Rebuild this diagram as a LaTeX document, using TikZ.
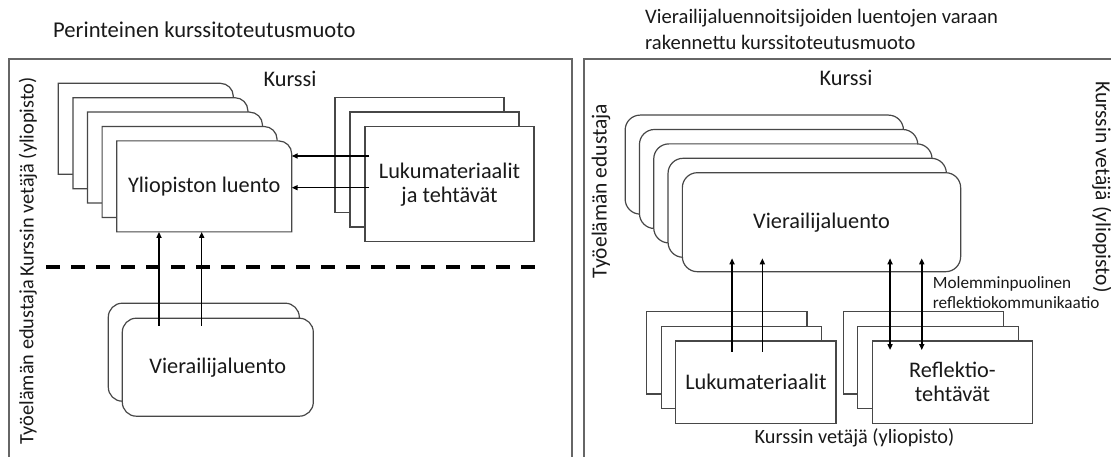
\documentclass[tikz,border=0pt]{standalone}
\usepackage{fontspec}
\setmainfont{Carlito}
\usetikzlibrary{arrows.meta}

\tikzset{
  txt/.style={font=\fontsize{22.3}{24}\selectfont, text=black!90, inner sep=0pt, align=center},
  roletxt/.style={txt, font=\fontsize{20.3}{24}\selectfont},
  smalltxt/.style={font=\fontsize{17.2}{20}\selectfont, text=black!90, inner sep=0pt, align=left},
  frameline/.style={draw=black!60, line width=1.3pt},
  cardline/.style={draw=black!72, line width=1.2pt},
  cardarea/.style={inner sep=0pt, outer sep=0pt},
  sqcard/.style={cardarea, cardline, fill=white},
  arr/.style={-{Triangle[length=6pt,width=5pt]}, line width=1.5pt, black},
  darr/.style={{Triangle[length=6pt,width=5pt]}-{Triangle[length=6pt,width=5pt]}, line width=1.5pt, black},
  divider/.style={line width=4pt, dash pattern=on 14pt off 11pt, black}
}

\begin{document}
\begin{tikzpicture}[x=1pt,y=-1pt]
\useasboundingbox (0,0) rectangle (1111,457);
\clip (0,0) rectangle (1111,457);

% ---------- headings ----------
\node[txt, anchor=base west, font=\fontsize{22.6}{24}\selectfont] (title-left) at (53,38) {Perinteinen kurssitoteutusmuoto};
\node[txt, anchor=base west, align=left, font=\fontsize{20.6}{26}\selectfont] (title-right) at (645,50)
  {Vierailijaluennoitsijoiden luentojen varaan\\rakennettu kurssitoteutusmuoto};

% ---------- course frames ----------
\draw[frameline] (9,470) -- (9,59) -- (572,59) -- (572,470);
\draw[frameline] (584,470) -- (584,59) -- (1125,59);

\node[txt, anchor=base] (course-left) at (290,87) {Kurssi};
\node[txt, anchor=base] (course-right) at (846,86) {Kurssi};

% ---------- left: lectures of the university (top-right corner rounded) ----------
\foreach \i in {0,...,4}{
  \node[cardarea, minimum width=175pt, minimum height=91pt] (yl\i)
    at ({204.2-(4-\i)*14.6},{186.4-(4-\i)*14.4}) {};
  \filldraw[cardline, fill=white] (yl\i.south west) -- (yl\i.north west)
    -- ([xshift=-13pt]yl\i.north east)
    .. controls ([xshift=-5.8pt]yl\i.north east) and ([yshift=-5.8pt]yl\i.north east)
    .. ([yshift=-13pt]yl\i.north east)
    -- (yl\i.south east) -- cycle;
}
\node[txt] (yl-label) at (yl4) {Yliopiston luento};

% ---------- left: reading material and tasks ----------
\foreach \i in {0,1}{
  \node[sqcard, minimum width=169pt, minimum height=115pt] (lm\i)
    at ({449.5-(2-\i)*15},{184.2-(2-\i)*14.7}) {};
}
\node[sqcard, txt, minimum width=169pt, minimum height=115pt] (lm2) at (449.5,184.2)
  {Lukumateriaalit\\ja tehtävät};

% ---------- left: guest lecture ----------
\node[sqcard, rounded corners=14pt, minimum width=191pt, minimum height=98pt] (vl0) at (203.8,352.2) {};
\node[sqcard, txt, rounded corners=14pt, minimum width=191pt, minimum height=98pt] (vl1) at (217.8,367.2) {Vierailijaluento};

% dividing line between university and working life
\draw[divider] (46,267) -- (545,267);

% left connectors
\coordinate (la1) at ([shift={(4,29.3)}]lm2.north west);
\coordinate (la2) at ([shift={(4,61)}]lm2.north west);
\draw[arr] (la1) -- (la1 -| yl4.east);
\draw[arr] (la2) -- (la2 -| yl4.east);

\coordinate (va1) at ([shift={(36.7,7.7)}]vl1.north west);
\coordinate (va2) at ([shift={(79.4,7.7)}]vl1.north west);
\draw[arr] (va1) -- (va1 |- yl4.south);
\draw[arr] (va2) -- (va2 |- yl4.south);

% left side roles
\node[roletxt, rotate=90] (role-uni-left) at (28,177) {Kurssin vetäjä (yliopisto)};
\node[roletxt, rotate=90] (role-work-left) at (28,362) {Työelämän edustaja};

% ---------- right: guest lectures ----------
\foreach \i in {0,...,3}{
  \node[sqcard, rounded corners=15pt, minimum width=278.3pt, minimum height=99pt] (vr\i)
    at ({821.5-(4-\i)*14.3},{222.2-(4-\i)*14.4}) {};
}
\node[sqcard, txt, rounded corners=15pt, minimum width=278.3pt, minimum height=99pt] (vr4)
  at (821.5,222.2) {Vierailijaluento};

% ---------- right: reading material ----------
\foreach \i in {0,1}{
  \node[sqcard, minimum width=160.3pt, minimum height=82.3pt] (rl\i)
    at ({755.9-(2-\i)*14.5},{382.2-(2-\i)*14.7}) {};
}
\node[sqcard, txt, minimum width=160.3pt, minimum height=82.3pt] (rl2) at (755.9,382.2) {Lukumateriaalit};

% ---------- right: reflection tasks ----------
\foreach \i in {0,1}{
  \node[sqcard, minimum width=160.3pt, minimum height=82.3pt] (rf\i)
    at ({952.5-(2-\i)*14.5},{382.2-(2-\i)*14.7}) {};
}
\node[sqcard, txt, minimum width=160.3pt, minimum height=82.3pt] (rf2) at (952.5,382.2) {Reflektio-\\tehtävät};

% right connectors
\coordinate (vtop) at ([yshift=13.4pt]vr4.south);
\coordinate (ra1) at ([shift={(56.3,10.7)}]rl2.north west);
\coordinate (ra2) at ([shift={(86.6,10.7)}]rl2.north west);
\draw[arr] (ra1) -- (ra1 |- vtop);
\draw[arr] (ra2) -- (ra2 |- vtop);

\coordinate (rd1) at ([shift={(17.7,9)}]rf2.north west);
\coordinate (rd2) at ([shift={(49.4,9)}]rf2.north west);
\draw[darr] (rd1 |- vtop) -- (rd1);
\draw[darr] (rd2 |- vtop) -- (rd2);

\node[smalltxt, anchor=base west] (mutual) at (932.7,308.3)
  {Molemminpuolinen\\reflektiokommunikaatio};

% right side roles
\node[roletxt, anchor=base] (role-uni-bottom) at (854.5,443.3) {Kurssin vetäjä (yliopisto)};
\node[txt, rotate=90, font=\fontsize{21.5}{24}\selectfont] (role-work-right) at (601,191) {Työelämän edustaja};
\node[txt, rotate=-90, font=\fontsize{21.5}{24}\selectfont] (role-uni-right) at (1102,187) {Kurssin vetäjä (yliopisto)};
\end{tikzpicture}
\end{document}
